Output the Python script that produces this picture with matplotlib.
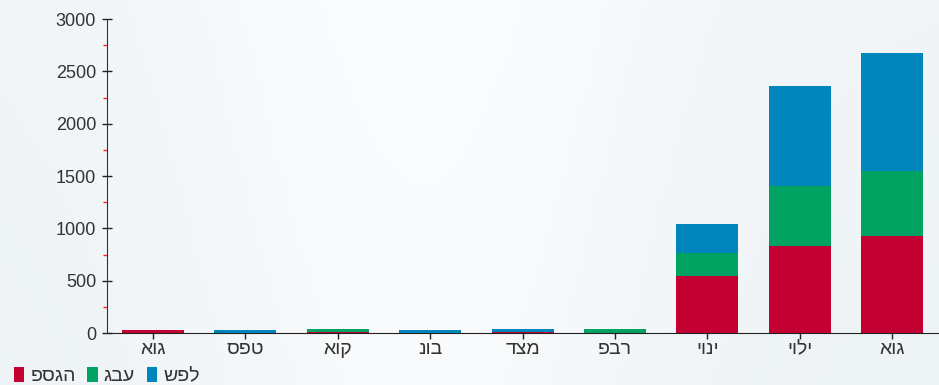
import matplotlib
matplotlib.use("Agg")
import matplotlib.pyplot as plt
from matplotlib.ticker import MultipleLocator
import numpy as np

plt.rcParams['font.family'] = ['Liberation Sans Narrow', 'Liberation Sans', 'DejaVu Sans']

categories = ["אוג", "ספט", "אוק", "נוב", "דצמ", "פבר", "יוני", "יולי", "אוג"]
series_names = ["פסגה", "גבע", "שפל"]
peak = [30, 5, 10, 5, 10, 5, 546, 829, 925]
hill = [0, 0, 30, 0, 0, 30, 214, 572, 622]
low = [0, 28, 0, 28, 30, 0, 286, 963, 1129]
colors = ["#c30032", "#00a362", "#0185bd"]

fig = plt.figure(figsize=(9.39, 3.85), dpi=100)
fig.patch.set_facecolor('#f4f8fa')

# subtle background gradient
bg = fig.add_axes([0, 0, 1, 1], zorder=-10)
gx = np.linspace(0, 1, 200)
gy = np.linspace(0, 1, 100)
X, Y = np.meshgrid(gx, gy)
G = 0.5 * np.exp(-((X - 0.45) ** 2) / 0.08) + 0.5 * (1 - Y) * 0.3
bg.imshow(G, cmap=matplotlib.colors.LinearSegmentedColormap.from_list('b', ['#eef3f6', '#fbfcfd']),
          aspect='auto', extent=[0, 1, 0, 1])
bg.axis('off')

ax = fig.add_axes([0.1135, 0.135, 0.886, 0.8156])
ax.patch.set_alpha(0)
x = np.arange(len(categories))
w = 0.67
b1 = np.array(peak)
b2 = b1 + np.array(hill)
ax.bar(x, peak, w, color=colors[0], label=series_names[0])
ax.bar(x, hill, w, bottom=b1, color=colors[1], label=series_names[1])
ax.bar(x, low, w, bottom=b2, color=colors[2], label=series_names[2])

ax.set_xlim(-0.5, 8.5)
ax.set_ylim(0, 3000)
ax.set_xticks(x)
ax.set_xticklabels(categories, fontsize=14, color='#333333')
ax.yaxis.set_major_locator(MultipleLocator(500))
ax.yaxis.set_minor_locator(MultipleLocator(250))
ax.tick_params(axis='y', which='major', direction='inout', length=7, width=1, color='#222222',
               labelsize=13, labelcolor='#333333', pad=4)
ax.tick_params(axis='y', which='minor', direction='out', length=3, width=1, color='#ff2020')
ax.tick_params(axis='x', which='major', direction='out', length=4, width=1, color='#222222', pad=2)
for s in ['top', 'right']:
    ax.spines[s].set_visible(False)
ax.spines['left'].set_color('#333333')
ax.spines['bottom'].set_color('#222222')

handles, labels = ax.get_legend_handles_labels()
fig.legend(handles, labels, loc='lower left', bbox_to_anchor=(-0.004, -0.045), ncol=3, frameon=False,
           fontsize=14, handlelength=0.55, handleheight=0.8, handletextpad=0.3, columnspacing=0.6,
           labelcolor='#333333')

fig.savefig('out.png', dpi=100, facecolor=fig.get_facecolor())
